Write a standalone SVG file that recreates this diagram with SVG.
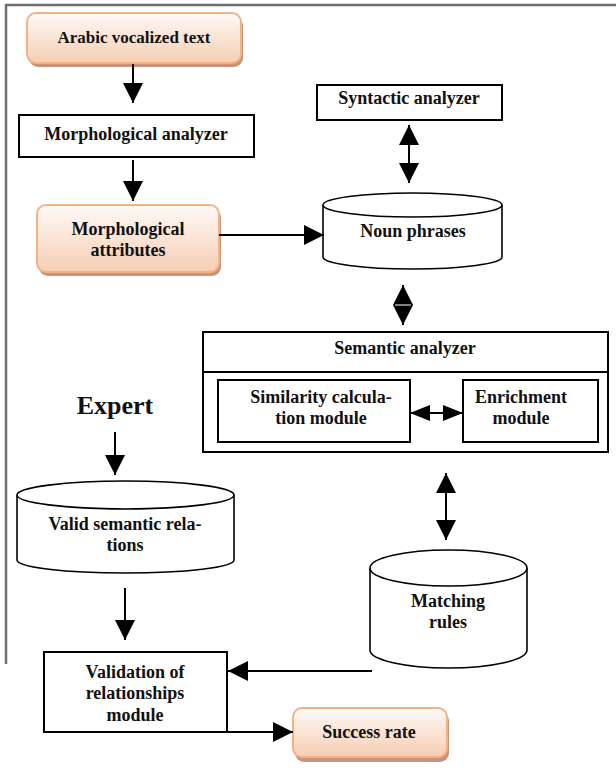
<svg xmlns="http://www.w3.org/2000/svg" width="616" height="778" viewBox="0 0 616 778">
<defs>
<linearGradient id="og" x1="0" y1="0" x2="0" y2="1">
<stop offset="0" stop-color="#fefaf7"/>
<stop offset="1" stop-color="#f6cdb2"/>
</linearGradient>
<marker id="ah" viewBox="0 0 20 20" refX="20" refY="10" markerWidth="20" markerHeight="20" markerUnits="userSpaceOnUse" orient="auto-start-reverse">
<path d="M0,0 L20,10 L0,20 Z" fill="#000"/>
</marker>
<marker id="ahs" viewBox="0 0 20 16" refX="20" refY="8" markerWidth="20" markerHeight="16" markerUnits="userSpaceOnUse" orient="auto-start-reverse">
<path d="M0,0 L20,8 L0,16 Z" fill="#000"/>
</marker>
</defs>
<style>
text{font-family:"Liberation Serif","Times New Roman",serif;font-weight:bold;fill:#111;text-anchor:middle}
.box{fill:#fff;stroke:#000;stroke-width:2}
.cyl{fill:#fff;stroke:#000;stroke-width:1.6}
.org{fill:url(#og);stroke:#f4b183;stroke-width:2}
.shd{fill:#c9957a}
.ln{stroke:#000;stroke-width:2;fill:none}
.f16{font-size:18px}
</style>
<rect width="616" height="778" fill="#fff"/>
<g id="frame">
<path d="M6,664 V5 H616" fill="none" stroke="#6e6e6e" stroke-width="2.5"/>
</g>

<g id="arabic-text">
<rect class="shd" x="29" y="17" width="214" height="50" rx="9"/>
<rect class="org" x="27" y="13" width="214" height="50" rx="9"/>
<text x="134" y="43" font-size="17">Arabic vocalized text</text>
</g>

<g id="morph-analyzer">
<rect class="box" x="19" y="115" width="235" height="42"/>
<text class="f16" x="136" y="140">Morphological analyzer</text>
</g>

<g id="morph-attributes">
<rect class="shd" x="39" y="209" width="182" height="67" rx="9"/>
<rect class="org" x="37" y="205" width="182" height="67" rx="9"/>
<text class="f16" x="128" y="235">Morphological</text>
<text class="f16" x="128" y="256">attributes</text>
</g>

<g id="syntactic-analyzer">
<rect class="box" x="317" y="85" width="185" height="35"/>
<text class="f16" x="409" y="104">Syntactic analyzer</text>
</g>

<g id="noun-phrases">
<path class="cyl" d="M323,205 V257 A89.5,12 0 0 0 502,257 V205 A89.5,12 0 0 0 323,205 Z"/>
<path class="cyl" d="M323,205 A89.5,12 0 0 0 502,205" fill="none"/>
<text class="f16" x="413" y="237">Noun phrases</text>
</g>

<g id="semantic-analyzer">
<rect class="box" x="203" y="332" width="405" height="120"/>
<line x1="203" y1="372" x2="608" y2="372" stroke="#000" stroke-width="2"/>
<text class="f16" x="405" y="354">Semantic analyzer</text>
<g id="similarity-module">
<rect class="box" x="218" y="380" width="192" height="62"/>
<text class="f16" x="321" y="403">Similarity calcula-</text>
<text class="f16" x="321" y="424">tion module</text>
</g>
<g id="enrichment-module">
<rect class="box" x="463" y="380" width="135" height="62"/>
<text class="f16" x="521" y="403">Enrichment</text>
<text class="f16" x="521" y="424">module</text>
</g>
</g>

<g id="expert">
<text x="115" y="414" font-size="26">Expert</text>
</g>

<g id="valid-relations">
<path class="cyl" d="M17,495 V560 A108.5,13 0 0 0 234,560 V495 A108.5,14 0 0 0 17,495 Z"/>
<path class="cyl" d="M17,495 A108.5,14 0 0 0 234,495" fill="none"/>
<text class="f16" x="125" y="530">Valid semantic rela-</text>
<text class="f16" x="125" y="551">tions</text>
</g>

<g id="matching-rules">
<path class="cyl" d="M370,568 V650 A78.5,18 0 0 0 527,650 V568 A78.5,18 0 0 0 370,568 Z"/>
<path class="cyl" d="M370,568 A78.5,18 0 0 0 527,568" fill="none"/>
<text class="f16" x="448" y="607">Matching</text>
<text class="f16" x="448" y="628">rules</text>
</g>

<g id="validation-module">
<rect class="box" x="44" y="652" width="183" height="80"/>
<text class="f16" x="135" y="678">Validation of</text>
<text class="f16" x="135" y="699">relationships</text>
<text class="f16" x="135" y="721">module</text>
</g>

<g id="success-rate">
<rect class="shd" x="295" y="712" width="154" height="50" rx="9"/>
<rect class="org" x="293" y="708" width="154" height="49" rx="9"/>
<text class="f16" x="369" y="738">Success rate</text>
</g>

<g id="connectors">
<line class="ln" x1="133" y1="64" x2="133" y2="103" marker-end="url(#ah)"/>
<line class="ln" x1="133" y1="160" x2="133" y2="201" marker-end="url(#ah)"/>
<line class="ln" x1="219" y1="235" x2="324" y2="235" marker-end="url(#ah)"/>
<line class="ln" x1="409" y1="125" x2="409" y2="183" marker-start="url(#ah)" marker-end="url(#ah)"/>
<line class="ln" x1="403" y1="285" x2="403" y2="325" marker-start="url(#ah)" marker-end="url(#ah)"/>
<line x1="395" y1="305" x2="411" y2="305" stroke="#fff" stroke-width="1"/>
<line class="ln" x1="410" y1="413" x2="463" y2="413" marker-start="url(#ahs)" marker-end="url(#ahs)"/>
<line class="ln" x1="446" y1="473" x2="446" y2="540" marker-start="url(#ah)" marker-end="url(#ah)"/>
<line class="ln" x1="115" y1="432" x2="115" y2="475" marker-end="url(#ah)"/>
<line class="ln" x1="125" y1="588" x2="125" y2="640" marker-end="url(#ah)"/>
<line class="ln" x1="372" y1="671" x2="228" y2="671" marker-end="url(#ah)"/>
<line class="ln" x1="227" y1="732" x2="293" y2="732" marker-end="url(#ah)"/>
</g>
</svg>
